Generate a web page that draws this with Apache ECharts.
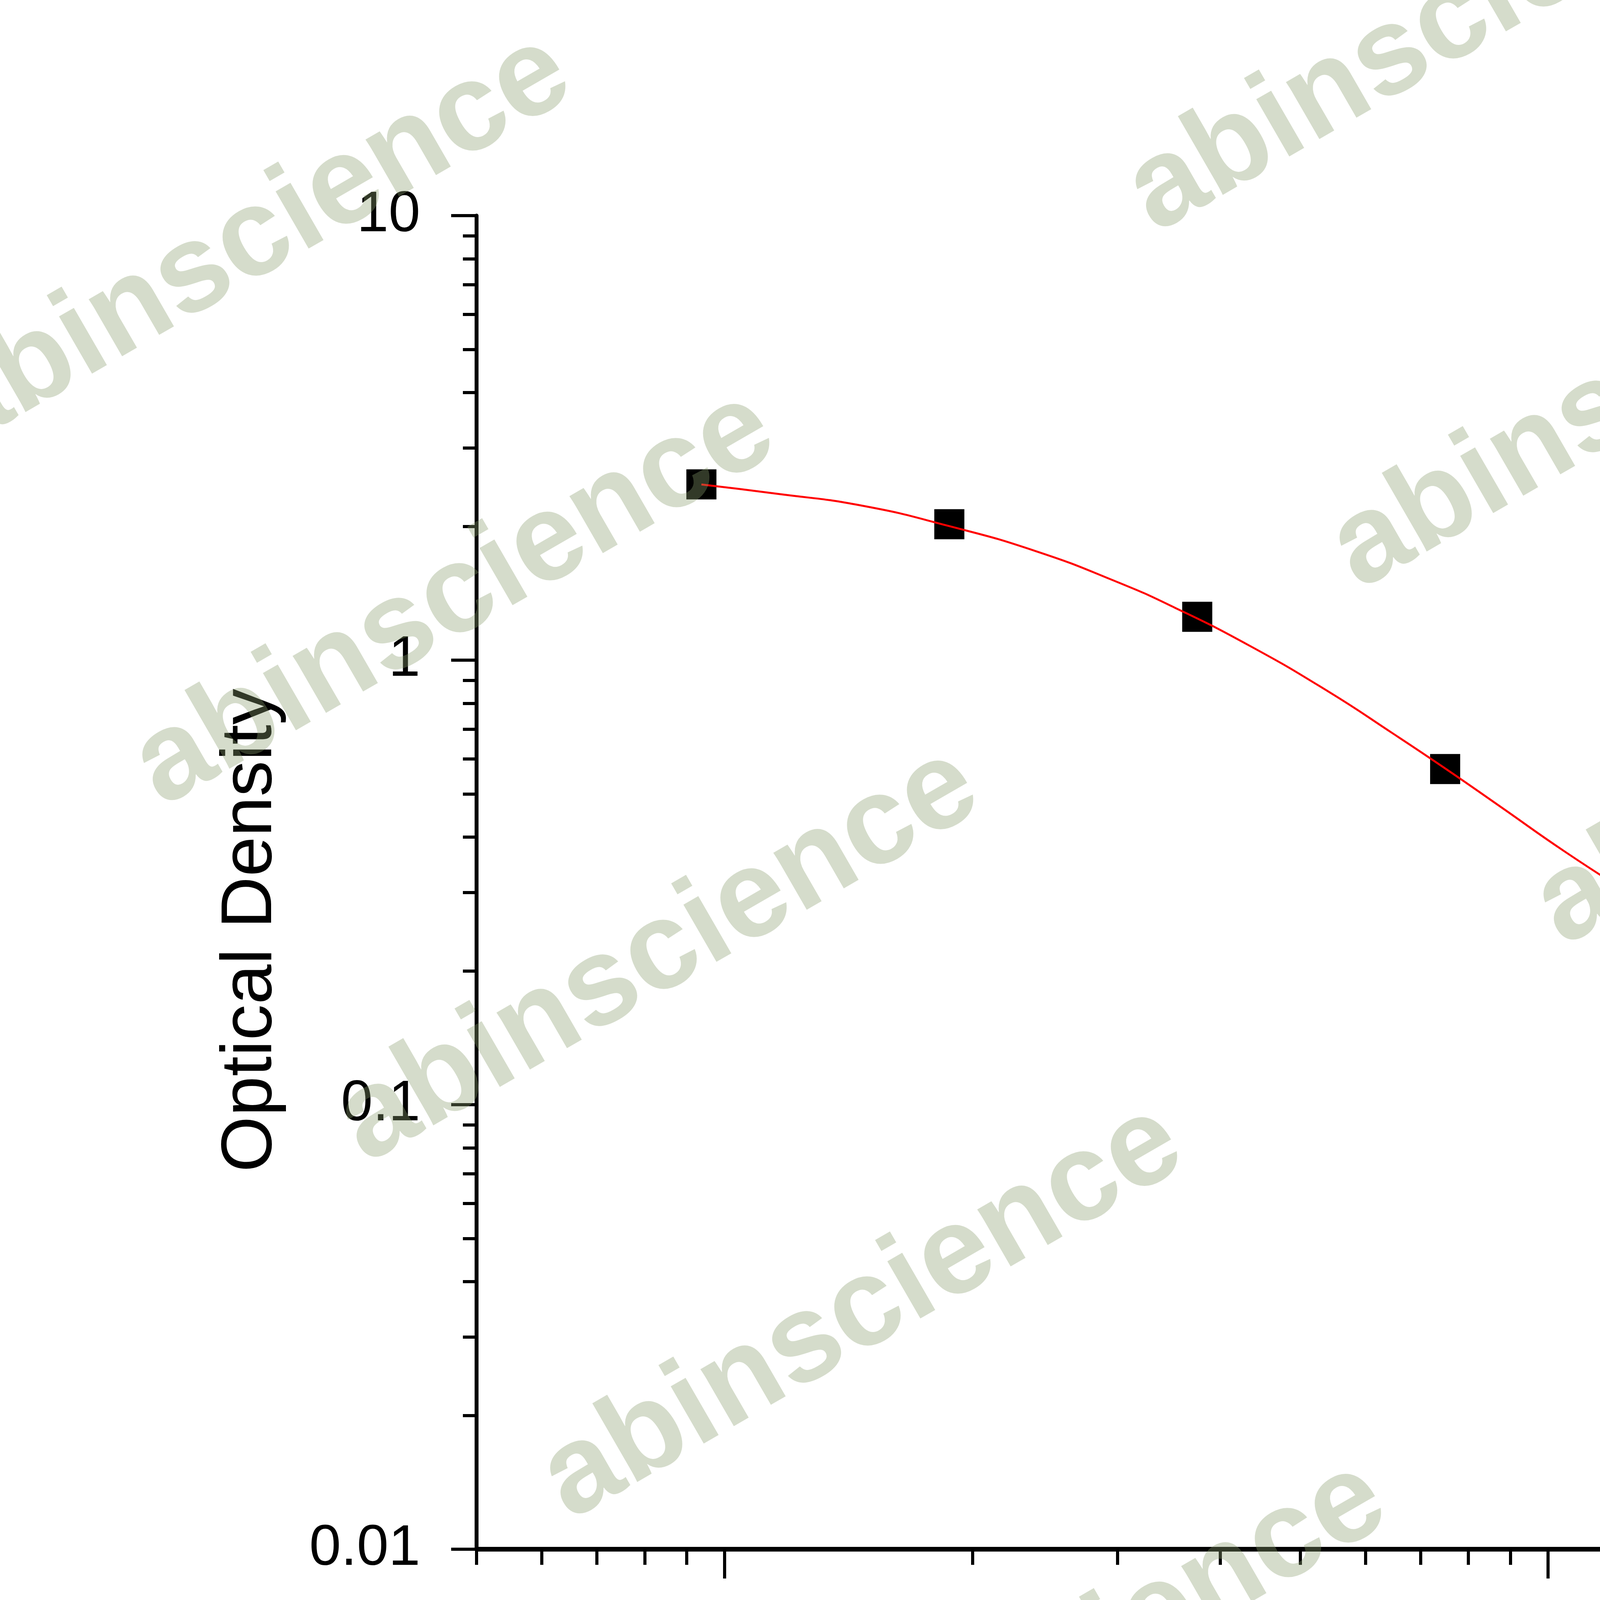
<!DOCTYPE html>
<html>
<head>
<meta charset="utf-8">
<script src="https://cdn.jsdelivr.net/npm/echarts@6/dist/echarts.min.js"></script>
<style>
html,body{margin:0;padding:0;background:#fff;}
#chart{width:6816px;height:4759px;}
</style>
</head>
<body>
<div id="chart"></div>
<script>
// ---- data ----
const concentration = [93.75, 187.5, 375, 750, 1500, 3000, 6000];
const opticalDensity = [2.486, 2.022, 1.252, 0.569, 0.2395, 0.130, 0.0899];
// fitted curve
const curveX = [93.75, 115.3, 146.7, 187.3, 238.3, 299.1, 352.0, 434.4, 540.2, 647.6, 751.5, 873.7, 1047.5, 1256, 1481, 1697, 1944.6, 2331, 3017, 3841, 4818, 6000];
const curveY = [2.484, 2.370, 2.227, 2.003, 1.761, 1.502, 1.313, 1.077, 0.8516, 0.6846, 0.5694, 0.4693, 0.3712, 0.2985, 0.2469, 0.2105, 0.1841, 0.1557, 0.1273, 0.1094, 0.0981, 0.0910];
// axis ticks
const xTickMajor = [100, 1000];
const xTickMinor = [50, 60, 70, 80, 90, 200, 300, 400, 500, 600, 700, 800, 900, 2000, 3000, 4000, 5000, 6000, 7000, 8000];
const yTickMajor = [0.01, 0.1, 1, 10];
const yTickMinor = [0.02, 0.03, 0.04, 0.05, 0.06, 0.07, 0.08, 0.09, 0.2, 0.3, 0.4, 0.5, 0.6, 0.7, 0.8, 0.9, 2, 3, 4, 5, 6, 7, 8, 9];
const xTitle = 'Namilumab  Concentration (ng/mL)';
const yTitle = 'Optical Density';
const watermarkText = 'abinscience';

const FONT = '"Liberation Sans", Arial, sans-serif';

// watermark lattice (decoration)
const wm = [];
const C0 = [4751, 1890], U = [522, 913], V = [3065, -556];
for (let i = -4; i <= 4; i++) {
  for (let j = -6; j <= 8; j++) {
    const cx = C0[0] + i * V[0] + j * U[0];
    const cy = C0[1] + i * V[1] + j * U[1];
    if (cx > -1200 && cx < 8100 && cy > -700 && cy < 5500) {
      wm.push({
        type: 'text', x: cx, y: cy, rotation: Math.PI / 6, z: 100, silent: true,
        style: {
          text: watermarkText,
          fontSize: 320, fontWeight: 'bold', fontFamily: FONT,
          fill: 'rgba(139,158,111,0.36)',
          align: 'center', verticalAlign: 'middle',
          textAlign: 'center', textVerticalAlign: 'middle'
        }
      });
    }
  }
}

const chart = echarts.init(document.getElementById('chart'), null, {renderer: 'canvas', width: 6816, height: 4759});
const axisFont = {color: '#000', fontSize: 146, fontFamily: FONT};
chart.setOption({
  animation: false,
  backgroundColor: '#fff',
  grid: {left: 1220, top: 552, right: 949, bottom: 793, containLabel: false},
  xAxis: [
    {
      type: 'log', logBase: 10, min: 50, max: 8000, position: 'bottom',
      name: xTitle, nameLocation: 'middle', nameGap: 387,
      nameTextStyle: {color: '#000', fontSize: 184, fontFamily: FONT},
      axisLine: {show: true, lineStyle: {color: '#000', width: 12}},
      axisTick: {show: true, inside: false, length: 75, customValues: xTickMajor, lineStyle: {color: '#000', width: 8}},
      axisLabel: {show: true, margin: 125, customValues: xTickMajor, formatter: v => String(Math.round(v)), ...axisFont},
      splitLine: {show: false}, minorTick: {show: false}
    },
    {
      type: 'log', logBase: 10, min: 50, max: 8000, position: 'bottom',
      axisLine: {show: false},
      axisTick: {show: true, inside: false, length: 40, customValues: xTickMinor, lineStyle: {color: '#000', width: 8}},
      axisLabel: {show: false},
      splitLine: {show: false}
    }
  ],
  yAxis: [
    {
      type: 'log', logBase: 10, min: 0.01, max: 10, position: 'left',
      name: yTitle, nameLocation: 'middle', nameGap: 485, nameRotate: 90,
      nameTextStyle: {color: '#000', fontSize: 184, fontFamily: FONT, padding: [0, 246, 0, 0]},
      axisLine: {show: true, lineStyle: {color: '#000', width: 10}},
      axisTick: {show: true, inside: false, length: 65, customValues: yTickMajor, lineStyle: {color: '#000', width: 8}},
      axisLabel: {show: true, margin: 144, customValues: yTickMajor, formatter: v => String(v), ...axisFont},
      splitLine: {show: false}, minorTick: {show: false}
    },
    {
      type: 'log', logBase: 10, min: 0.01, max: 10, position: 'left',
      axisLine: {show: false},
      axisTick: {show: true, inside: false, length: 35, customValues: yTickMinor, lineStyle: {color: '#000', width: 8}},
      axisLabel: {show: false},
      splitLine: {show: false}
    }
  ],
  series: [
    {
      type: 'scatter', xAxisIndex: 0, yAxisIndex: 0, z: 2,
      symbol: 'rect', symbolSize: 77,
      itemStyle: {color: '#000', opacity: 1},
      data: concentration.map((c, i) => [c, opticalDensity[i]])
    },
    {
      type: 'line', xAxisIndex: 0, yAxisIndex: 0, z: 3,
      smooth: true, showSymbol: false, symbol: 'none',
      lineStyle: {color: '#ff0000', width: 5},
      data: curveX.map((c, i) => [c, curveY[i]])
    }
  ],
  graphic: wm
});
</script>
</body>
</html>
